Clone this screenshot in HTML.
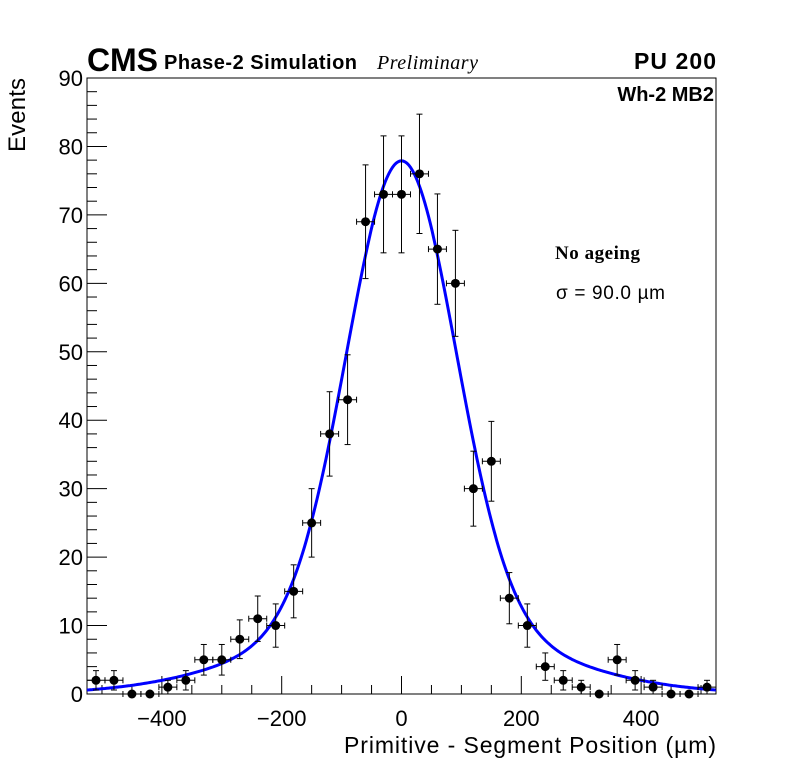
<!DOCTYPE html>
<html><head><meta charset="utf-8"><style>
html,body{margin:0;padding:0;background:#fff;}
svg{display:block;font-family:"Liberation Sans",sans-serif;}
</style></head><body>
<svg id="chart" width="796" height="772" viewBox="0 0 796 772" xmlns="http://www.w3.org/2000/svg">
<rect x="0" y="0" width="796" height="772" fill="#fff"/>
<g id="axes"></g>
<g id="fit"></g>
<g id="points"></g>
<text x="87" y="71" font-size="32" font-weight="bold" textLength="71">CMS</text>
<text x="164" y="69" font-size="20" font-weight="bold" textLength="193">Phase-2 Simulation</text>
<text x="377" y="69" font-size="20" font-style="italic" font-family="Liberation Serif, serif" textLength="101">Preliminary</text>
<text x="716" y="69" font-size="23" font-weight="bold" text-anchor="end" textLength="82">PU 200</text>
<text x="714" y="101" font-size="20" font-weight="bold" text-anchor="end">Wh-2 MB2</text>
<text x="555" y="259" font-size="19" font-weight="bold" font-family="Liberation Serif, serif" textLength="85">No ageing</text>
<text x="556" y="299" font-size="19" textLength="109">σ = 90.0 µm</text>
<text x="716" y="753" font-size="23" text-anchor="end" textLength="372">Primitive - Segment Position (µm)</text>
<text transform="translate(25,78) rotate(-90)" font-size="24" text-anchor="end" textLength="74">Events</text>
</svg>
<script>
const binCenters = [-510,-480,-450,-420,-390,-360,-330,-300,-270,-240,-210,-180,-150,-120,-90,-60,-30,0,30,60,90,120,150,180,210,240,270,300,330,360,390,420,450,480,510];
const counts = [2,2,0,0,1,2,5,5,8,11,10,15,25,38,43,69,73,73,76,65,60,30,34,14,10,4,2,1,0,5,2,1,0,0,1];
const xTicks = [-400,-200,0,200,400];
const xTickLabels = ["\u2212400","\u2212200","0","200","400"];
const yTicks = [0,10,20,30,40,50,60,70,80,90];
const fitCore = [67, 0, 90];   // amplitude, mean, sigma
const fitTail = [10.9, 0, 217];
const binWidth = 30;

const X0=87,X1=716,Y0=694,Y1=78,XMIN=-525,XMAX=525,YMIN=0,YMAX=90;
const xs=v=>X0+(v-XMIN)/(XMAX-XMIN)*(X1-X0);
const ys=v=>Y0-(v-YMIN)/(YMAX-YMIN)*(Y0-Y1);
const NS='http://www.w3.org/2000/svg';
function mk(tag,attrs,parent){const e=document.createElementNS(NS,tag);for(const k in attrs)e.setAttribute(k,attrs[k]);parent.appendChild(e);return e;}
const axes=document.getElementById('axes');
const frame=mk('rect',{x:X0,y:Y1,width:X1-X0,height:Y0-Y1,fill:'none',stroke:'#000','stroke-width':1},axes);


for(let v=-500;v<=500;v+=50){
  const major=xTicks.includes(v);
  const len=major?18:9;
  const t=mk('line',{x1:xs(v),x2:xs(v),y1:Y0,y2:Y0-len,stroke:'#000','stroke-width':1},axes);
  
  
}
xTicks.forEach((v,i)=>{
  const l=mk('text',{x:xs(v),y:726,'font-size':22,'text-anchor':'middle'},axes);
  l.textContent=xTickLabels[i];
  
  
});
for(let v=0;v<=90;v+=2){
  const major=v%10===0;
  const len=major?20:10;
  const t=mk('line',{x1:X0,x2:X0+len,y1:ys(v),y2:ys(v),stroke:'#000','stroke-width':1},axes);
  
  
}
yTicks.forEach(v=>{
  const l=mk('text',{x:83,y:ys(v)+8,'font-size':22,'text-anchor':'end'},axes);
  l.textContent=String(v);
  
  
});
const g=(p,x)=>p[0]*Math.exp(-((x-p[1])**2)/(2*p[2]*p[2]));
let d='';
for(let x=XMIN;x<=XMAX;x+=3){const y=g(fitCore,x)+g(fitTail,x);d+=(d?'L':'M')+xs(x).toFixed(1)+','+ys(y).toFixed(1);}
const fit=mk('path',{d:d,fill:'none',stroke:'#0000ff','stroke-width':3},document.getElementById('fit'));


const pts=document.getElementById('points');
binCenters.forEach((c,i)=>{
  const n=counts[i], e=Math.sqrt(n);
  const cx=xs(c), cy=ys(n);
  const grp=mk('g',{},pts);
  
  
  const xl=xs(c-binWidth/2), xr=xs(c+binWidth/2);
  mk('line',{x1:xl,x2:xr,y1:cy,y2:cy,stroke:'#000','stroke-width':1},grp);
  mk('line',{x1:xl,x2:xl,y1:cy-3,y2:cy+3,stroke:'#000','stroke-width':1},grp);
  mk('line',{x1:xr,x2:xr,y1:cy-3,y2:cy+3,stroke:'#000','stroke-width':1},grp);
  if(n>0){
    const yt=ys(n+e), yb=ys(n-e);
    mk('line',{x1:cx,x2:cx,y1:yt,y2:yb,stroke:'#000','stroke-width':1},grp);
    mk('line',{x1:cx-3,x2:cx+3,y1:yt,y2:yt,stroke:'#000','stroke-width':1},grp);
    mk('line',{x1:cx-3,x2:cx+3,y1:yb,y2:yb,stroke:'#000','stroke-width':1},grp);
  }
  mk('circle',{cx:cx,cy:cy,r:4.5,fill:'#000'},grp);
});
</script>
</body></html>
